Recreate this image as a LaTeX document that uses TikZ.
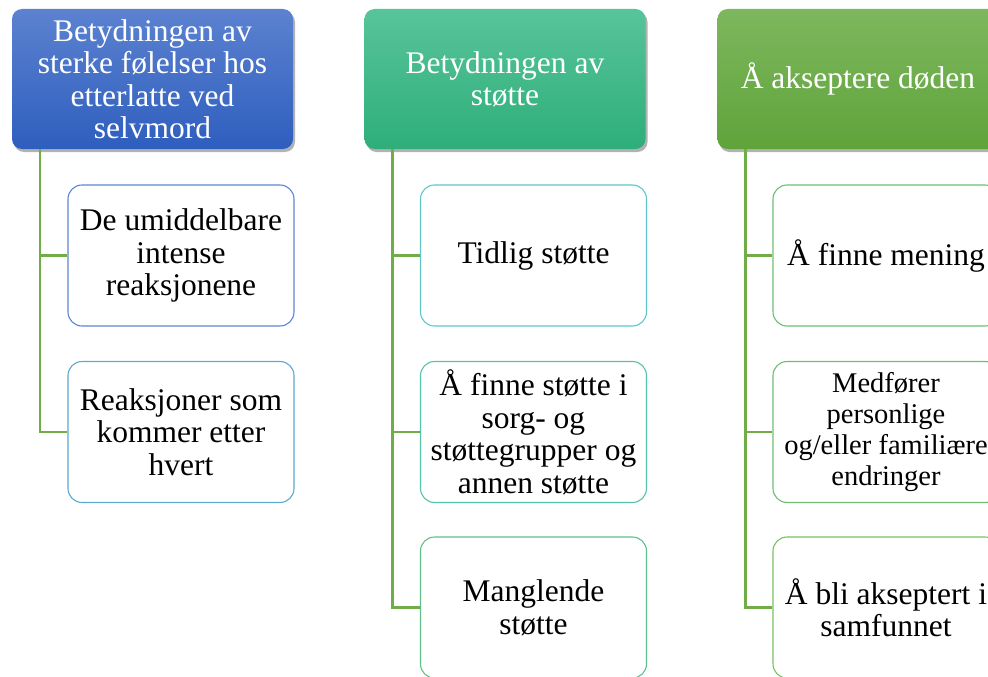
\documentclass[tikz,border=0pt]{standalone}
\usepackage{fontspec}
\setmainfont{Liberation Serif}
\usetikzlibrary{shadows}

\definecolor{linkgreen}{HTML}{70AD47}

\begin{document}
\begin{tikzpicture}[
  x=1pt,y=-1pt,
  head/.style={rounded corners=10pt,minimum width=281pt,minimum height=140pt,
    text=white,align=center,font=\fontsize{31.5}{32.5}\selectfont,
    drop shadow={shadow xshift=2pt,shadow yshift=-3pt,opacity=.3,fill=black}},
  kid/.style={draw,line width=1.1pt,fill=white,rounded corners=14pt,
    minimum width=226pt,minimum height=141pt,align=center,
    font=\fontsize{31.5}{32.5}\selectfont},
  link/.style={linkgreen,line width=2.6pt},
]
  \useasboundingbox (0,0) rectangle (988,677);

  % headers
  \node[head,top color={rgb,255:red,92;green,130;blue,208},
    bottom color={rgb,255:red,46;green,94;blue,190}] (head1) at (152.5,79)
    {Betydningen av\\sterke følelser hos\\etterlatte ved\\selvmord};
  \node[head,top color={rgb,255:red,88;green,196;blue,154},
    bottom color={rgb,255:red,46;green,174;blue,122}] (head2) at (505,79)
    {Betydningen av\\støtte};
  \node[head,top color={rgb,255:red,126;green,183;blue,94},
    bottom color={rgb,255:red,95;green,163;blue,58}] (head3) at (858,79)
    {Å akseptere døden};

  % first column
  \node[kid,draw={rgb,255:red,92;green,134;blue,210}] (kid11) at (181,255.5)
    {De umiddelbare\\intense\\reaksjonene};
  \node[kid,draw={rgb,255:red,92;green,168;blue,208}] (kid12) at (181,432)
    {Reaksjoner som\\kommer etter\\hvert};

  % second column
  \node[kid,draw={rgb,255:red,96;green,198;blue,204}] (kid21) at (533.5,255.5)
    {Tidlig støtte};
  \node[kid,draw={rgb,255:red,86;green,196;blue,170}] (kid22) at (533.5,432)
    {Å finne støtte i\\sorg- og\\støttegrupper og\\annen støtte};
  \node[kid,draw={rgb,255:red,96;green,192;blue,140}] (kid23) at (533.5,607.5)
    {Manglende\\støtte};

  % third column
  \node[kid,draw={rgb,255:red,110;green,190;blue,112}] (kid31) at (886,255.5)
    {Å finne mening};
  \node[kid,draw={rgb,255:red,110;green,190;blue,112},
    font=\fontsize{28.5}{31}\selectfont] (kid32) at (886,432)
    {Medfører\\personlige\\og/eller familiære\\endringer};
  \node[kid,draw={rgb,255:red,120;green,192;blue,100}] (kid33) at (886,607.5)
    {Å bli akseptert i\\samfunnet};

  % connectors
  \foreach \h/\k in {head1/kid11,head1/kid12,head2/kid21,head2/kid22,head2/kid23,
                     head3/kid31,head3/kid32,head3/kid33}
    \draw[link] ([xshift=28pt]\h.south west) |- (\k.west);
\end{tikzpicture}
\end{document}
